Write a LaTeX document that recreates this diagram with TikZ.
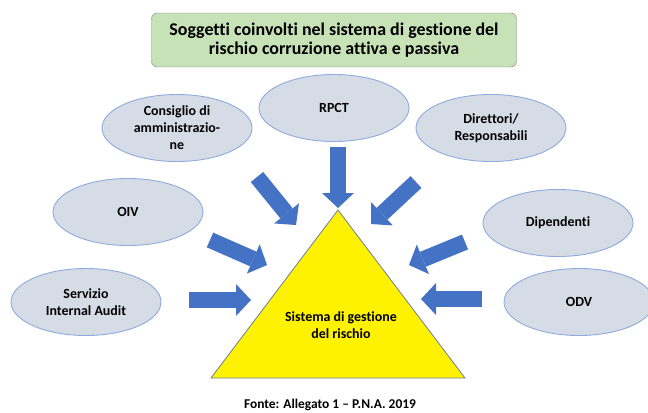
\documentclass[tikz,border=0pt]{standalone}
\usepackage{fontspec}
\setmainfont{Carlito}[Ligatures=NoCommon]
\usepackage{tikz}
\usetikzlibrary{arrows.meta,calc,positioning,shapes.geometric}
\definecolor{verdechiaro}{RGB}{200,226,184}
\definecolor{bordotitolo}{RGB}{120,135,120}
\definecolor{grigioazzurro}{RGB}{214,220,229}
\definecolor{bordoazzurro}{RGB}{143,170,220}
\definecolor{bluoffice}{RGB}{68,114,196}
\definecolor{bordotriangolo}{RGB}{110,125,150}
\tikzset{
  titolo/.style={
    rounded corners=6pt,
    draw=bordotitolo,
    fill=verdechiaro,
    align=center,
    minimum width=365bp,
    minimum height=54bp,
    inner sep=0pt,
    font=\bfseries\fontsize{18}{19.5}\selectfont
  },
  soggetto/.style={
    ellipse,
    draw=bordoazzurro,
    line width=.9bp,
    fill=grigioazzurro,
    align=center,
    minimum width=150bp,
    minimum height=67bp,
    inner sep=0pt,
    font=\bfseries\fontsize{14}{17}\selectfont
  },
  triangolo/.style={
    draw=bordotriangolo,
    line width=.8bp,
    fill=yellow
  },
  scritta/.style={
    align=center,
    inner sep=0pt,
    font=\bfseries\fontsize{14}{17}\selectfont
  },
  freccia/.style={
    -{Triangle[length=15bp,width=32bp,line width=0pt]},
    line width=16bp,
    draw=bluoffice
  },
  nota/.style={
    inner sep=0pt,
    font=\bfseries\fontsize{13.5}{15}\selectfont
  }
}
\begin{document}
\begin{tikzpicture}[x=1bp,y=-1bp]
\useasboundingbox (0,0) rectangle (648,412);
\node[titolo] (intestazione) at (334,40) {Soggetti coinvolti nel sistema di gestione del\\rischio corruzione attiva e passiva};
\node[soggetto] (cda) at (177,128) {Consiglio di\\amministrazio-\\ne};
\node[soggetto] (rpct) at (334,108) {RPCT};
\node[soggetto] (direttori) at (491,128) {Direttori/\\Responsabili};
\node[soggetto] (oiv) at (128,212) {OIV};
\node[soggetto] (dipendenti) at (558,223) {Dipendenti};
\node[soggetto] (audit) at (86,302) {Servizio\\Internal Audit};
\node[soggetto] (odv) at (579,302) {ODV};
% triangolo
\coordinate (apice) at (338,210);
\coordinate (baseSx) at (211,378);
\coordinate (baseDx) at (465,378);
\draw[triangolo] (apice) -- (baseDx) -- (baseSx) -- cycle;
\node[scritta] (sistema) at (341,325) {Sistema di gestione\\del rischio};
% frecce
\coordinate (c1) at (257,177); \coordinate (p1) at (296,225);
\coordinate (c2) at (338,147); \coordinate (p2) at (338,208);
\coordinate (c3) at (416,182); \coordinate (p3) at (371,224);
\coordinate (c4) at (210,240); \coordinate (p4) at (267,265);
\coordinate (c5) at (465,242); \coordinate (p5) at (409,265);
\coordinate (c6) at (189,300); \coordinate (p6) at (251,300);
\coordinate (c7) at (482,299); \coordinate (p7) at (421,299);
\foreach \i in {1,...,7}
  \draw[freccia] (c\i) -- (p\i);
\node[nota] (fonte) at (330,405) {Fonte: Allegato 1 -- P.N.A. 2019};
\end{tikzpicture}
\end{document}
